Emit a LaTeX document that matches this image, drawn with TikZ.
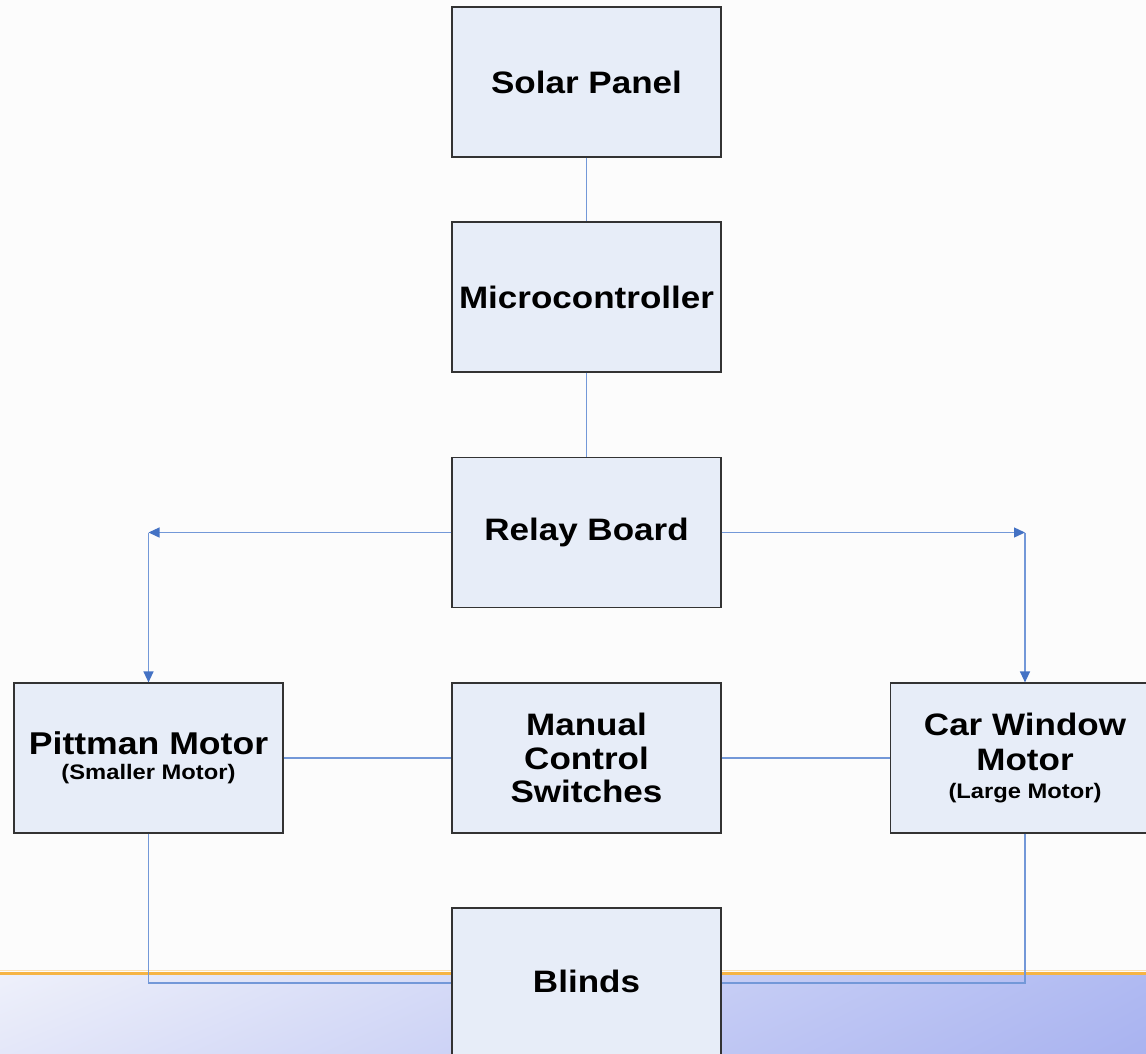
\documentclass[tikz,border=0pt]{standalone}
\usepackage{fontspec}
\setmainfont{Liberation Sans}[FakeStretch=1.13]
\usetikzlibrary{arrows.meta,shadings}
\definecolor{bg}{HTML}{FCFCFC}
\definecolor{boxfill}{HTML}{E7EDF8}
\definecolor{boxline}{HTML}{333333}
\definecolor{conn}{HTML}{7398D8}
\definecolor{tip}{HTML}{4472C4}
\definecolor{orangeline}{HTML}{F6B444}
\definecolor{gUL}{HTML}{EEF0FA}
\definecolor{gLL}{HTML}{E4E7F9}
\definecolor{gUR}{HTML}{B0BAF2}
\definecolor{gLR}{HTML}{A9B3F0}
\begin{document}
\begin{tikzpicture}[x=1pt,y=-1pt,
  blk/.style={draw=boxline,line width=1.2pt,fill=boxfill,minimum width=269pt,minimum height=150pt,
    inner sep=0pt,align=center,text=black,font=\bfseries\fontsize{31}{35}\selectfont},
  wire/.style={draw=conn,line width=1.3pt},
  arr/.style={wire,-{Triangle[length=11pt,width=10pt,color=tip]}}]
\useasboundingbox (0,0) rectangle (1146,1053);
\clip (0,0) rectangle (1146,1053);
\fill[bg] (0,0) rectangle (1146,1053);
\shade[upper left=gUL,lower left=gLL,upper right=gUR,lower right=gLR] (0,975) rectangle (1146,1053);
\draw[orangeline!40,line width=1.2pt] (0,970.5) -- (1146,970.5);
\draw[orangeline,line width=3pt] (0,973) -- (1146,973);

\node[blk] (solar) at (586.5,82) {Solar Panel};
\node[blk] (micro) at (586.5,297) {Microcontroller};
\node[blk] (relay) at (586.5,532.5) {Relay Board};
\node[blk,font=\bfseries\fontsize{31.5}{27}\selectfont] (pit) at (148.5,758)
  {\raisebox{-2pt}{Pittman Motor}\\{\fontsize{21}{27}\selectfont(Smaller Motor)}};
\node[blk,font=\bfseries\fontsize{31}{33.5}\selectfont] (manual) at (586.5,758)
  {Manual\\Control\\Switches};
\node[blk,font=\bfseries\fontsize{31}{35}\selectfont] (car) at (1025,758)
  {Car Window\\Motor\\[-7pt]{\fontsize{21}{26}\selectfont(Large Motor)}};
\node[blk] (blinds) at (586.5,983) {\raisebox{3pt}{Blinds}};

\coordinate (cl) at (148.5,532.5);
\coordinate (cr) at (1025,532.5);

\draw[wire] (solar) -- (micro);
\draw[wire] (micro) -- (relay);
\draw[arr] (relay.west) -- (cl);
\draw[arr] (cl) -- (pit.north);
\draw[arr] (relay.east) -- (cr);
\draw[arr] (cr) -- (car.north);
\draw[wire] (pit.east) -- (manual.west);
\draw[wire] (manual.east) -- (car.west);
\draw[wire] (pit.south) |- (blinds.west);
\draw[wire] (car.south) |- (blinds.east);
\end{tikzpicture}
\end{document}
